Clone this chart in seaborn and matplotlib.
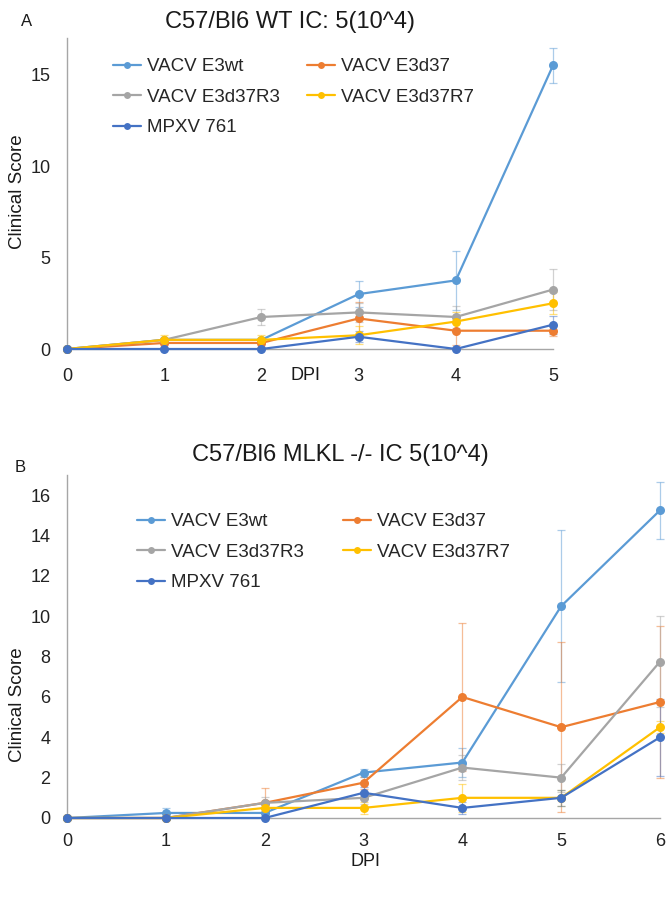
import numpy as np
import pandas as pd
import matplotlib
matplotlib.use("Agg")
import matplotlib.pyplot as plt
from matplotlib.lines import Line2D
import seaborn as sns

sns.set_theme(style="white")
plt.rcParams["font.family"] = ["Liberation Sans", "DejaVu Sans"]

series = ["VACV E3wt", "VACV E3d37", "VACV E3d37R3", "VACV E3d37R7", "MPXV 761"]
colors = ["#5B9BD5", "#ED7D31", "#A5A5A5", "#FFC000", "#4472C4"]

# Panel A: C57/Bl6 WT, days 0-5
days_a = [0, 1, 2, 3, 4, 5]
a_e3wt = [0, 0.5, 0.5, 3.0, 3.75, 15.5]
a_e3d37 = [0, 0.33, 0.33, 1.67, 1.0, 1.0]
a_r3 = [0, 0.5, 1.75, 2.0, 1.75, 3.25]
a_r7 = [0, 0.5, 0.5, 0.75, 1.5, 2.5]
a_mpxv = [0, 0, 0, 0.67, 0, 1.33]
a_e3wt_err = [0, 0, 0, 0.7, 1.6, 0.95]
a_e3d37_err = [0, 0.2, 0.2, 0.9, 0.8, 0.3]
a_r3_err = [0, 0, 0.45, 0.5, 0.6, 1.1]
a_r7_err = [0, 0.25, 0.25, 0.5, 0.5, 0.6]
a_mpxv_err = [0, 0, 0, 0.3, 0, 0.5]

# Panel B: C57/Bl6 MLKL -/-, days 0-6
days_b = [0, 1, 2, 3, 4, 5, 6]
b_e3wt = [0, 0.25, 0.25, 2.25, 2.75, 10.5, 15.25]
b_e3d37 = [0, 0, 0.75, 1.75, 6.0, 4.5, 5.75]
b_r3 = [0, 0, 0.75, 1.0, 2.5, 2.0, 7.75]
b_r7 = [0, 0, 0.5, 0.5, 1.0, 1.0, 4.5]
b_mpxv = [0, 0, 0, 1.25, 0.5, 1.0, 4.0]
b_e3wt_err = [0, 0.25, 0.2, 0.2, 0.7, 3.75, 1.4]
b_e3d37_err = [0, 0, 0.75, 0.3, 3.65, 4.2, 3.75]
b_r3_err = [0, 0, 0.3, 0.3, 0.6, 0.7, 2.25]
b_r7_err = [0, 0, 0.2, 0.3, 0.7, 0.4, 0.3]
b_mpxv_err = [0, 0, 0, 0.3, 0.3, 0.4, 1.9]


def long_table(days, values):
    rows = []
    for name, vals in zip(series, values):
        for d, v in zip(days, vals):
            rows.append({"DPI": d, "score": v, "series": name})
    return pd.DataFrame(rows)


def draw_panel(ax, days, values, errors, yticks, ymax, xpad):
    df = long_table(days, values)
    for name, col, vals, errs in zip(series, colors, values, errors):
        idx = [i for i, e in enumerate(errs) if e > 0]
        if idx:
            ax.errorbar([days[i] for i in idx], [vals[i] for i in idx],
                        yerr=[errs[i] for i in idx], fmt="none", ecolor=col,
                        elinewidth=0.9, capsize=3, capthick=0.9, alpha=0.5,
                        zorder=1.5, clip_on=False)
    sns.lineplot(data=df, x="DPI", y="score", hue="series", hue_order=series,
                 palette=colors, marker="o", markersize=6.5, markeredgewidth=0,
                 linewidth=1.6, errorbar=None, legend=False, ax=ax, zorder=3)
    for ln in ax.lines:
        ln.set_clip_on(False)
    ax.set_xlim(days[0], days[-1])
    ax.set_ylim(0, ymax)
    ax.set_xticks(days)
    ax.set_yticks(yticks)
    ax.set_xlabel("")
    ax.set_ylabel("")
    for s in ("top", "right"):
        ax.spines[s].set_visible(False)
    for s in ("left", "bottom"):
        ax.spines[s].set_color("#A6A6A6")
        ax.spines[s].set_linewidth(1.0)
    ax.tick_params(axis="both", length=0, labelsize=13, colors="#222222")
    ax.tick_params(axis="y", pad=12)
    ax.tick_params(axis="x", pad=xpad)


def add_legend(ax, fig, x, y, colspacing):
    handles = [Line2D([], [], color=c, marker="o", markersize=5, linewidth=1.6,
                      markeredgewidth=0) for c in colors]
    order = [0, 2, 4, 1, 3]
    ax.legend([handles[i] for i in order], [series[i] for i in order],
              ncol=2, loc="upper left", bbox_to_anchor=(x, y),
              bbox_transform=fig.transFigure, frameon=False, fontsize=13.5,
              handlelength=1.5, handletextpad=0.3, columnspacing=colspacing,
              labelspacing=0.72, borderpad=0, borderaxespad=0)


W, H = 666, 900
fig = plt.figure(figsize=(W / 100, H / 100), dpi=100)

ax_a = fig.add_axes([67 / W, 1 - 349 / H, (553 - 67) / W, (349 - 38) / H])
draw_panel(ax_a, days_a, [a_e3wt, a_e3d37, a_r3, a_r7, a_mpxv],
           [a_e3wt_err, a_e3d37_err, a_r3_err, a_r7_err, a_mpxv_err],
           [0, 5, 10, 15], 17, 14)
add_legend(ax_a, fig, 113 / W, 1 - 58 / H, 1.45)

ax_b = fig.add_axes([67 / W, 1 - 818 / H, (660 - 67) / W, (818 - 475) / H])
draw_panel(ax_b, days_b, [b_e3wt, b_e3d37, b_r3, b_r7, b_mpxv],
           [b_e3wt_err, b_e3d37_err, b_r3_err, b_r7_err, b_mpxv_err],
           list(range(0, 17, 2)), 17, 11)
add_legend(ax_b, fig, 137 / W, 1 - 513 / H, 2.1)

txt = "#1a1a1a"
fig.text(290 / W, 1 - 22 / H, "C57/Bl6 WT IC: 5(10^4)", ha="center", va="center",
         fontsize=17, color=txt)
fig.text(27 / W, 1 - 22 / H, "A", ha="center", va="center", fontsize=12, color=txt)
fig.text(18 / W, 1 - 192 / H, "Clinical Score", rotation=90, ha="center",
         va="center", fontsize=13.5, color=txt)
fig.text(305 / W, 1 - 376 / H, "DPI", ha="center", va="center", fontsize=13, color=txt)

fig.text(340 / W, 1 - 455 / H, "C57/Bl6 MLKL -/- IC 5(10^4)", ha="center",
         va="center", fontsize=17, color=txt)
fig.text(20 / W, 1 - 468 / H, "B", ha="center", va="center", fontsize=12, color=txt)
fig.text(18 / W, 1 - 705 / H, "Clinical Score", rotation=90, ha="center",
         va="center", fontsize=13.5, color=txt)
fig.text(365 / W, 1 - 861 / H, "DPI", ha="center", va="center", fontsize=13, color=txt)

fig.savefig("out.png", dpi=100, facecolor="white")
